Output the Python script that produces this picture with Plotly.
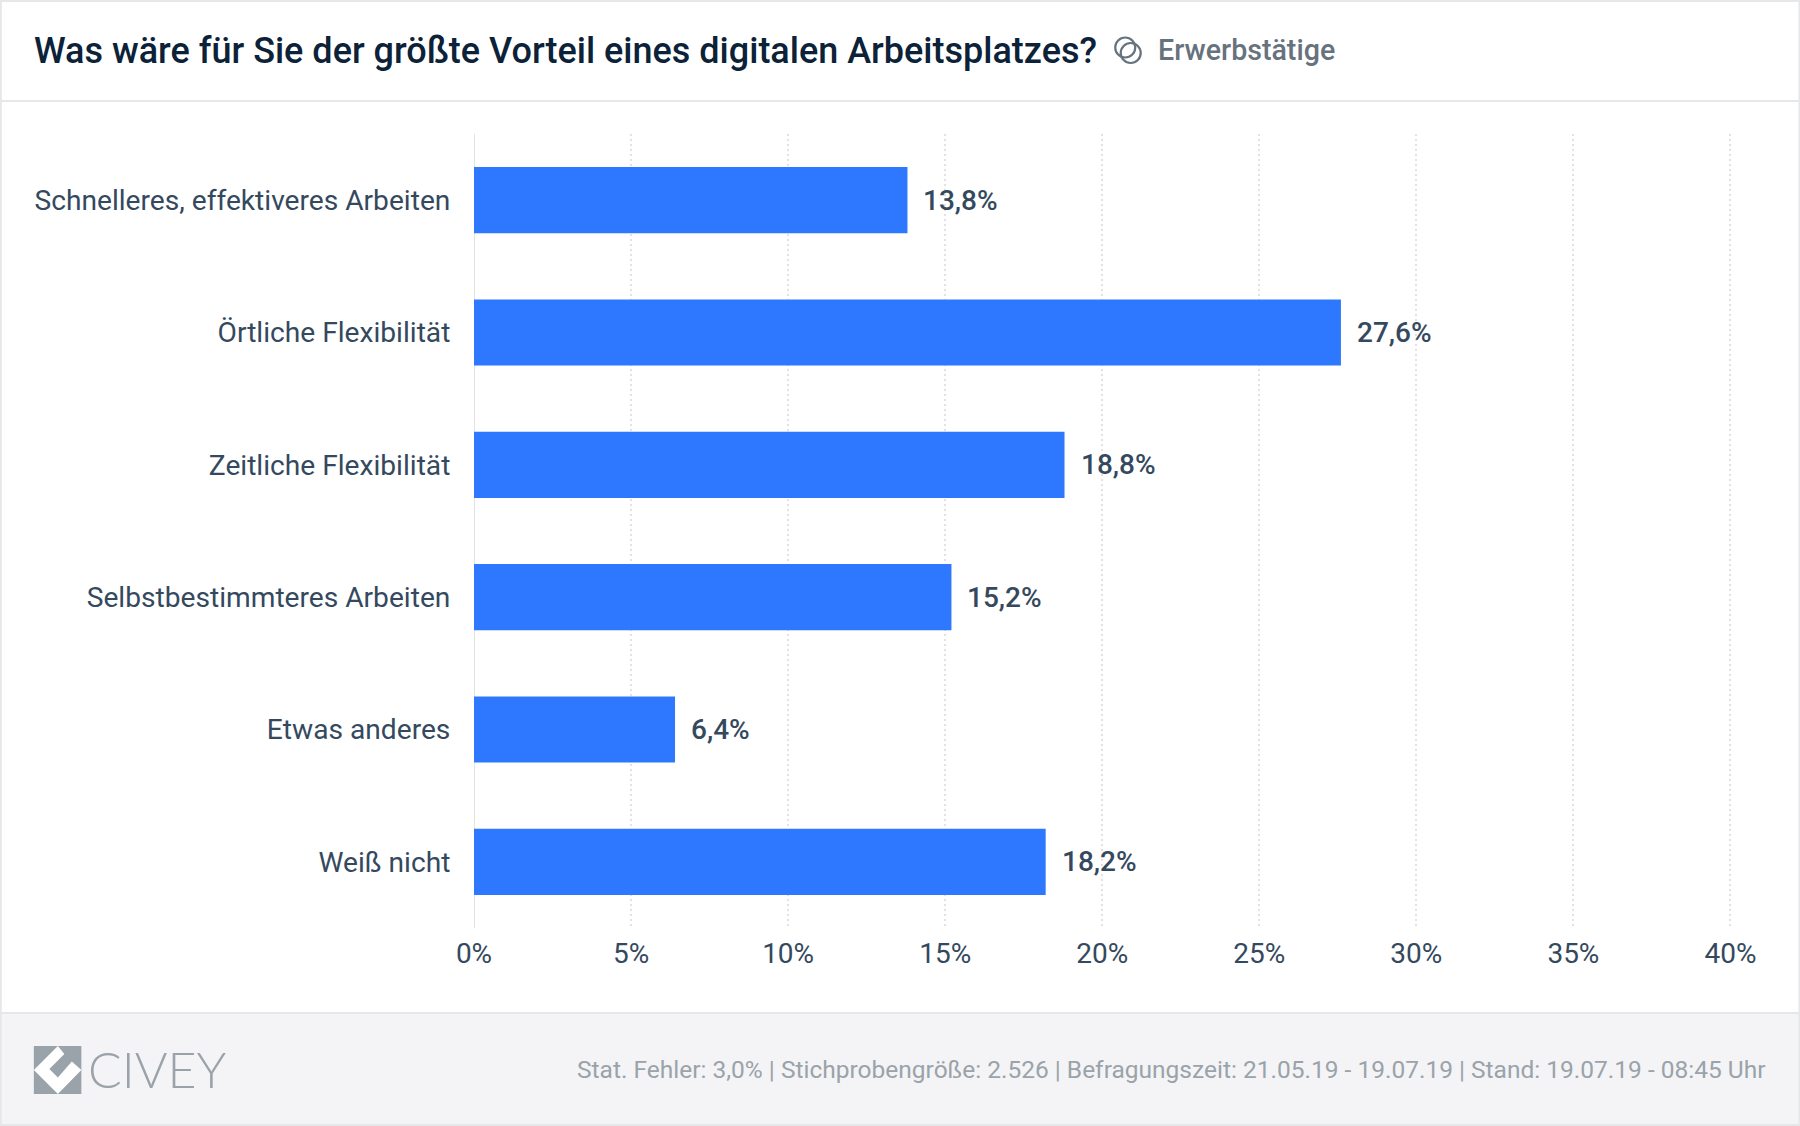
import plotly.graph_objects as go

categories = ["Schnelleres, effektiveres Arbeiten", "Örtliche Flexibilität", "Zeitliche Flexibilität",
              "Selbstbestimmteres Arbeiten", "Etwas anderes", "Weiß nicht"]
values = [13.8, 27.6, 18.8, 15.2, 6.4, 18.2]
tick_values = [0, 5, 10, 15, 20, 25, 30, 35, 40]
tick_labels = ["0%", "5%", "10%", "15%", "20%", "25%", "30%", "35%", "40%"]
title_text = "Was wäre für Sie der größte Vorteil eines digitalen Arbeitsplatzes?"
subtitle_text = "Erwerbstätige"
footer_text = "Stat. Fehler: 3,0% | Stichprobengröße: 2.526 | Befragungszeit: 21.05.19 - 19.07.19 | Stand: 19.07.19 - 08:45 Uhr"

W, H = 1800, 1126
L, R, T, B = 474, 1731.57, 134, 928
def px(x): return (x - L) / (R - L)
def py(y): return (B - y) / (B - T)

TEXT = "#34495e"
GREY = "#9aa3aa"
LINE = "#e6e7e8"
FOOT = "#f4f4f6"

fig = go.Figure(go.Bar(x=values, y=categories, orientation="h", marker=dict(color="#2e78ff", line_width=0),
                       hoverinfo="skip"))

shapes = [
    dict(type="rect", xref="paper", yref="paper", x0=px(0), x1=px(W), y0=py(1013), y1=py(H), fillcolor=FOOT, line_width=0, layer="below"),
    dict(type="line", xref="paper", yref="paper", x0=px(0), x1=px(W), y0=py(101), y1=py(101), line=dict(color=LINE, width=2), layer="below"),
    dict(type="line", xref="paper", yref="paper", x0=px(0), x1=px(W), y0=py(1013), y1=py(1013), line=dict(color=LINE, width=2), layer="below"),
    dict(type="rect", xref="paper", yref="paper", x0=px(1), x1=px(W - 1), y0=py(1), y1=py(H - 1), line=dict(color=LINE, width=2), layer="below"),
    # y axis line, centred on zero
    dict(type="line", xref="x", yref="paper", x0=0, x1=0, y0=0, y1=1, line=dict(color="#e3e3e3", width=2), layer="below"),
    # subtitle icon
    dict(type="circle", xref="paper", yref="paper", x0=px(1115), x1=px(1135), y0=py(37.5), y1=py(57.5), line=dict(color="#66727e", width=2.2)),
    dict(type="circle", xref="paper", yref="paper", x0=px(1120.5), x1=px(1140.5), y0=py(43), y1=py(63), line=dict(color="#66727e", width=2.2)),
    # logo
    dict(type="rect", xref="paper", yref="paper", x0=px(34), x1=px(81.5), y0=py(1046), y1=py(1094), fillcolor=GREY, line_width=0),
]
chev = [(58, 1046), (34, 1070), (58, 1094), (81.5, 1070), (72, 1061.5), (58, 1077.5), (49.5, 1069), (64.5, 1054)]
path = "M " + " L ".join(f"{px(x)},{py(y)}" for x, y in chev) + " Z"
shapes.append(dict(type="path", xref="paper", yref="paper", path=path, fillcolor="#ffffff", line_width=0))

annotations = [dict(x=v, y=c, xref="x", yref="y", text=f"{v:.1f}%".replace(".", ","), showarrow=False,
                    xanchor="left", xshift=14, font=dict(family="Roboto", size=28, color=TEXT, weight=500))
               for v, c in zip(values, categories)]
def label(x, y, text, anchor, **font):
    annotations.append(dict(x=px(x), y=py(y), xref="paper", yref="paper", text=text, showarrow=False,
                            xanchor=anchor, yanchor="middle", font=font))
label(32, 51.5, title_text, "left", family="Roboto", size=36, color="#0c2238", weight=500)
label(1156, 50, subtitle_text, "left", family="Roboto", size=28.6, color="#66727e", weight=500)
label(1768, 1069, footer_text, "right", family="Roboto", size=24.5, color=GREY)
label(86.5, 1069, "CIVEY", "left", family="Lato", size=50, color=GREY, weight=300)

fig.update_layout(
    template="none", width=W, height=H, autosize=False,
    margin=dict(l=L, r=W - R, t=T, b=H - B, pad=0),
    paper_bgcolor="white", plot_bgcolor="white", showlegend=False, bargap=0.5,
    shapes=shapes, annotations=annotations, font=dict(family="Roboto", color=TEXT),
    xaxis=dict(range=[0, 40.05], tickmode="array", tickvals=tick_values, ticktext=tick_labels,
               showgrid=True, gridcolor="#e2e2e2", griddash="2px,3px", gridwidth=2, zeroline=False, showline=False,
               ticks="", ticklabelstandoff=6, tickfont=dict(family="Roboto", size=28, color=TEXT)),
    yaxis=dict(categoryorder="array", categoryarray=categories[::-1], showgrid=False, zeroline=False,
               showline=False,
               ticks="outside", ticklen=17, tickcolor="rgba(0,0,0,0)", tickfont=dict(family="Roboto", size=28.15, color=TEXT)),
)
fig.write_html("out.html", config={"displayModeBar": False},
               post_script="document.body.style.margin='0';")
